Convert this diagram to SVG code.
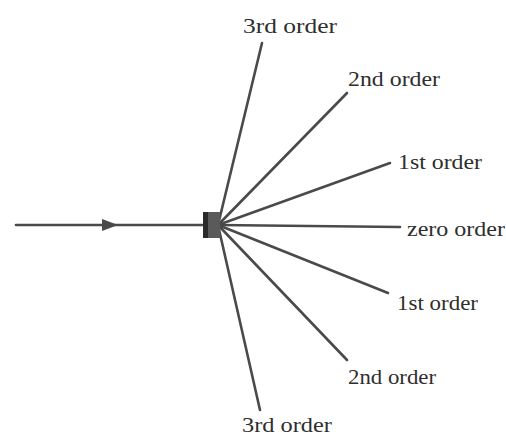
<svg xmlns="http://www.w3.org/2000/svg" width="506" height="436" viewBox="0 0 506 436">
<style>
.ray{stroke:#4a4a4a;stroke-width:2.6;fill:none;stroke-linecap:round}
.lbl{font-family:"Liberation Serif","Times New Roman",serif;font-size:21px;fill:#2e2e2e}
</style>
<defs>
<marker id="arr" viewBox="0 0 16 12" refX="8" refY="6" markerWidth="16" markerHeight="12" markerUnits="userSpaceOnUse" orient="auto">
<path d="M0,0 L16,6 L0,12 Z" fill="#4a4a4a"/>
</marker>
</defs>
<rect width="506" height="436" fill="#ffffff"/>
<g id="connectors">
<path class="ray" d="M16,225 L110,225" marker-end="url(#arr)"/>
<path class="ray" d="M110,225 L206,225"/>
<path class="ray" d="M218,225 L262,43"/>
<path class="ray" d="M218,225 L347,93"/>
<path class="ray" d="M218,225 L390,163"/>
<path class="ray" d="M218,225 L400,227"/>
<path class="ray" d="M218,225 L388,293"/>
<path class="ray" d="M218,225 L347,360"/>
<path class="ray" d="M218,225 L260,410"/>
</g>
<g id="grating">
<rect x="204" y="212" width="16" height="26" fill="#5a5a5a"/>
<rect x="203" y="212" width="5" height="26" fill="#2a2a2a"/>
</g>
<g id="label-3rd-up"><text class="lbl" x="243" y="33" textLength="94" lengthAdjust="spacingAndGlyphs">3rd order</text></g>
<g id="label-2nd-up"><text class="lbl" x="348" y="86" textLength="92" lengthAdjust="spacingAndGlyphs">2nd order</text></g>
<g id="label-1st-up"><text class="lbl" x="398" y="169" textLength="84" lengthAdjust="spacingAndGlyphs">1st order</text></g>
<g id="label-zero"><text class="lbl" x="407" y="236" textLength="98" lengthAdjust="spacingAndGlyphs">zero order</text></g>
<g id="label-1st-down"><text class="lbl" x="397" y="310" textLength="81" lengthAdjust="spacingAndGlyphs">1st order</text></g>
<g id="label-2nd-down"><text class="lbl" x="348" y="384" textLength="88" lengthAdjust="spacingAndGlyphs">2nd order</text></g>
<g id="label-3rd-down"><text class="lbl" x="242" y="432" textLength="90" lengthAdjust="spacingAndGlyphs">3rd order</text></g>
</svg>
